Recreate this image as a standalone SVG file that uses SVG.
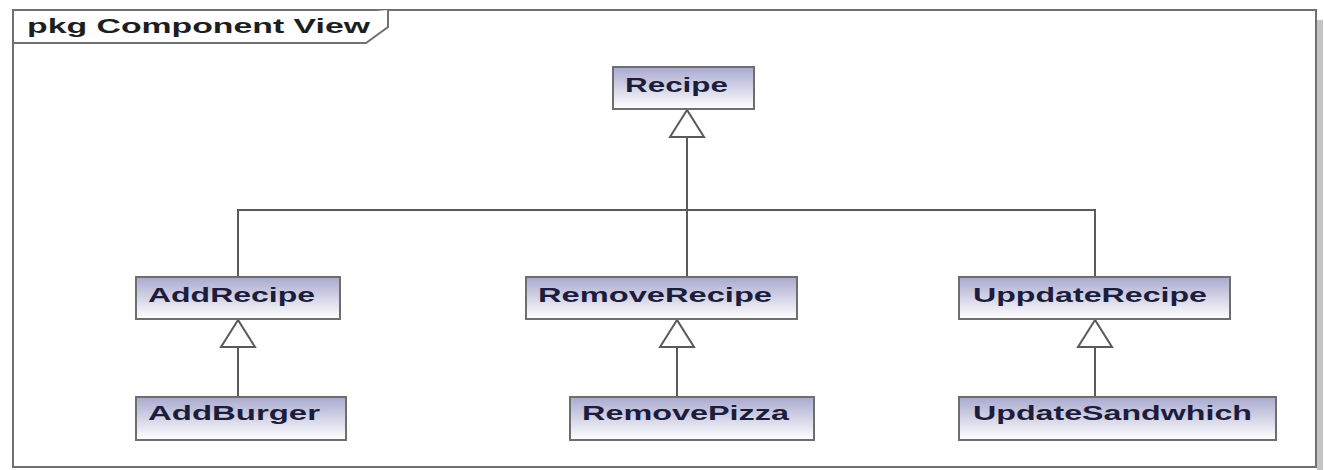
<svg xmlns="http://www.w3.org/2000/svg" width="1324" height="470" viewBox="0 0 1324 470">
<style>
.box{fill:url(#g);stroke:#6e6e6e;stroke-width:2}
.lbl{font-family:"Liberation Sans",Arial,sans-serif;font-weight:bold;font-size:21px;fill:#1c1c3c}
.edge{fill:none;stroke:#5a5a5a;stroke-width:2}
.tri{fill:#fff;stroke:#5a5a5a;stroke-width:2;stroke-linejoin:miter}
.frame{fill:#fff;stroke:#707070;stroke-width:2}
</style>
<defs>
<linearGradient id="g" x1="0" y1="0" x2="0" y2="1">
<stop offset="0" stop-color="#a9a9cf"/>
<stop offset="1" stop-color="#ffffff"/>
</linearGradient>
</defs>
<rect width="1324" height="470" fill="#fff"/>
<g id="frame">
<rect x="1317" y="20" width="6" height="450" fill="#c4c4c4"/>
<rect class="frame" x="13" y="10" width="1303" height="457"/>
<path class="frame" d="M13 43 H366 L388 27 V10"/>
<text class="lbl" x="27" y="33" fill="#202020" textLength="343" lengthAdjust="spacingAndGlyphs" style="fill:#1e1e1e">pkg Component View</text>
</g>
<g id="connectors">
<path class="edge" d="M238 277 V210 H1095 V277"/>
<path class="edge" d="M687 277 V137"/>
<polygon class="tri" points="687,110 670,137 704,137"/>
<path class="edge" d="M238 397 V347"/>
<polygon class="tri" points="238,320 221,347 255,347"/>
<path class="edge" d="M677 397 V347"/>
<polygon class="tri" points="677,320 660,347 694,347"/>
<path class="edge" d="M1095 397 V347"/>
<polygon class="tri" points="1095,320 1078,347 1112,347"/>
</g>
<g id="Recipe">
<rect class="box" x="613" y="67" width="141" height="42"/>
<text class="lbl" x="625" y="92" textLength="103" lengthAdjust="spacingAndGlyphs">Recipe</text>
</g>
<g id="AddRecipe">
<rect class="box" x="136" y="277" width="204" height="42"/>
<text class="lbl" x="148" y="302" textLength="167" lengthAdjust="spacingAndGlyphs">AddRecipe</text>
</g>
<g id="RemoveRecipe">
<rect class="box" x="526" y="277" width="271" height="42"/>
<text class="lbl" x="538" y="302" textLength="234" lengthAdjust="spacingAndGlyphs">RemoveRecipe</text>
</g>
<g id="UppdateRecipe">
<rect class="box" x="959" y="277" width="271" height="42"/>
<text class="lbl" x="973" y="302" textLength="234" lengthAdjust="spacingAndGlyphs">UppdateRecipe</text>
</g>
<g id="AddBurger">
<rect class="box" x="136" y="397" width="210" height="43"/>
<text class="lbl" x="148" y="420" textLength="172" lengthAdjust="spacingAndGlyphs">AddBurger</text>
</g>
<g id="RemovePizza">
<rect class="box" x="570" y="397" width="244" height="43"/>
<text class="lbl" x="582" y="420" textLength="207" lengthAdjust="spacingAndGlyphs">RemovePizza</text>
</g>
<g id="UpdateSandwhich">
<rect class="box" x="959" y="397" width="317" height="43"/>
<text class="lbl" x="973" y="420" textLength="279" lengthAdjust="spacingAndGlyphs">UpdateSandwhich</text>
</g>
</svg>
